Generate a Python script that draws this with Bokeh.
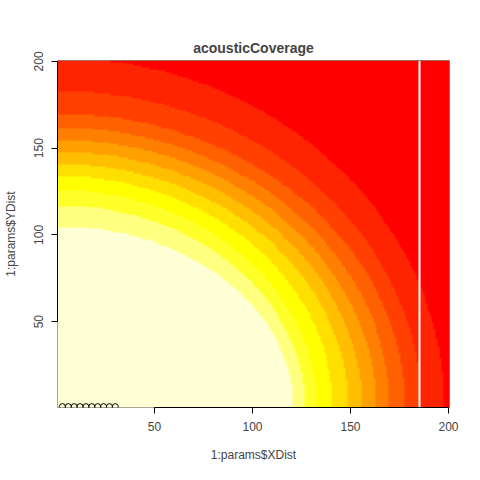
import numpy as np
from bokeh.plotting import figure
from bokeh.models import LinearColorMapper, FixedTicker
from bokeh.embed import file_html
from bokeh.resources import INLINE

# band boundaries (x extent and y extent of each contour)
bound_x = [121, 127, 133, 141, 149, 156, 163, 170, 178, 186, 198]
bound_y = [105, 117, 126, 134, 141, 148, 155, 162, 170, 183, 202]
palette = ["#FFFFD5", "#FFFF80", "#FFFF2A", "#FFFF00", "#FFDF00", "#FFBF00",
           "#FF9F00", "#FF8000", "#FF6000", "#FF4000", "#FF2400", "#FF0000"]
gap_col = 185
pts_x = [3, 6, 9, 12, 15, 18, 21, 24, 27, 30]
pts_y = [1, 1, 1, 1, 1, 1, 1, 1, 1, 1]

xs = np.arange(1, 201)
X, Y = np.meshgrid(xs, xs)
level = np.zeros(X.shape)
for a, b in zip(bound_x, bound_y):
    level += ((X / a) ** 2 + (Y / b) ** 2) > 1
level[:, gap_col - 1] = np.nan

p = figure(width=464, height=464, output_backend="svg", toolbar_location=None,
           x_range=(0.5, 200.5), y_range=(0.5, 200.5),
           title="acousticCoverage", min_border_left=56, min_border_right=15,
           min_border_top=60, min_border_bottom=56)
mapper = LinearColorMapper(palette=palette, low=-0.5, high=11.5, nan_color=(0, 0, 0, 0))
p.image(image=[level], x=0.5, y=0.5, dw=200, dh=200, color_mapper=mapper)
p.scatter(pts_x, pts_y, size=6, fill_color=None, line_color="black")

p.title.align = "center"
p.title.text_font = "Liberation Sans"
p.title.text_font_size = "14px"
p.title.text_font_style = "bold"
p.title.offset = 0
p.grid.visible = False
p.outline_line_color = "#888888"
p.xaxis.axis_label = "1:params$XDist"
p.yaxis.axis_label = "1:params$YDist"
for ax in (p.xaxis[0], p.yaxis[0]):
    ax.ticker = FixedTicker(ticks=[50, 100, 150, 200])
    ax.bounds = (50, 200)
    ax.minor_tick_line_color = None
    ax.major_tick_in = 0
    ax.major_tick_out = 6
    ax.major_label_standoff = 8
    ax.axis_label_standoff = 14
    ax.major_label_text_font = "Liberation Sans"
    ax.major_label_text_font_size = "12px"
    ax.axis_label_text_font = "Liberation Sans"
    ax.axis_label_text_font_size = "12px"
    ax.axis_label_text_font_style = "normal"
    ax.axis_line_color = "black"
p.yaxis.major_label_orientation = "vertical"

open("out.html", "w").write(file_html(p, INLINE))
